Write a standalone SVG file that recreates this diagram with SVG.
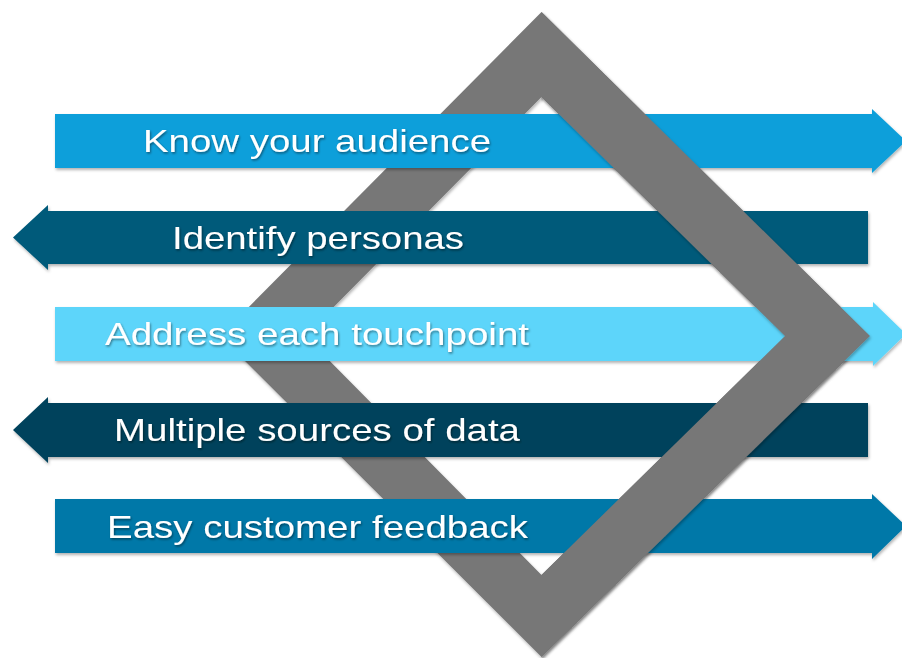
<svg xmlns="http://www.w3.org/2000/svg" width="902" height="658" viewBox="0 0 902 658">
  <defs>
    <filter id="shadow" x="-5%" y="-20%" width="110%" height="150%">
      <feDropShadow dx="1" dy="2" stdDeviation="1.5" flood-color="#000" flood-opacity="0.3"/>
    </filter>
    <filter id="tshadow" x="-5%" y="-20%" width="110%" height="150%">
      <feDropShadow dx="1" dy="1.5" stdDeviation="1.2" flood-color="#000" flood-opacity="0.45"/>
    </filter>
    <clipPath id="rightHalf">
      <rect x="541.5" y="0" width="400" height="658"/>
    </clipPath>
    <polygon id="frameShape" points="541.5,12 870,336 541.5,657 220,336 541.5,12 541.5,97 305,336 541.5,575 785,336 541.5,97" fill-rule="evenodd"/>
  </defs>
  <style>
    .frame { fill: #777777; }
    .lbl { font-family: "Liberation Sans", Arial, sans-serif; font-size: 32px; fill: #ffffff; filter: url(#tshadow); }
    .a1 { fill: #0A9FDA; }
    .a2 { fill: #035A7A; }
    .a3 { fill: #5DD5FA; }
    .a4 { fill: #05435C; }
    .a5 { fill: #0478A8; }
  </style>
  <rect width="902" height="658" fill="#ffffff"/>

  <!-- whole diamond frame (left half shows behind the arrows) -->
  <g id="frame-back">
    <use href="#frameShape" class="frame" filter="url(#shadow)"/>
  </g>

  <g id="arrow-know" filter="url(#shadow)">
    <polygon class="a1" points="55,114 872,114 872,109 906,141 872,173 872,168 55,168"/>
    <text class="lbl" x="143" y="152" textLength="348" lengthAdjust="spacingAndGlyphs">Know your audience</text>
  </g>
  <g id="arrow-identify" filter="url(#shadow)">
    <polygon class="a2" points="868,211 48,211 48,205 13,237.5 48,270 48,264 868,264"/>
    <text class="lbl" x="172" y="249" textLength="292" lengthAdjust="spacingAndGlyphs">Identify personas</text>
  </g>
  <g id="arrow-address" filter="url(#shadow)">
    <polygon class="a3" points="55,307 873,307 873,302 906,334 873,366 873,361 55,361"/>
    <text class="lbl" x="105" y="345" textLength="424" lengthAdjust="spacingAndGlyphs">Address each touchpoint</text>
  </g>
  <g id="arrow-multiple" filter="url(#shadow)">
    <polygon class="a4" points="868,403 48,403 48,397 13,430 48,463 48,457 868,457"/>
    <text class="lbl" x="114" y="441" textLength="406" lengthAdjust="spacingAndGlyphs">Multiple sources of data</text>
  </g>
  <g id="arrow-easy" filter="url(#shadow)">
    <polygon class="a5" points="55,499 872,499 872,494 906,526 872,559 872,553 55,553"/>
    <text class="lbl" x="107" y="538" textLength="421" lengthAdjust="spacingAndGlyphs">Easy customer feedback</text>
  </g>

  <!-- right half of the diamond frame, passing over the arrows -->
  <g id="frame-front" clip-path="url(#rightHalf)">
    <use href="#frameShape" class="frame" filter="url(#shadow)"/>
  </g>
</svg>
